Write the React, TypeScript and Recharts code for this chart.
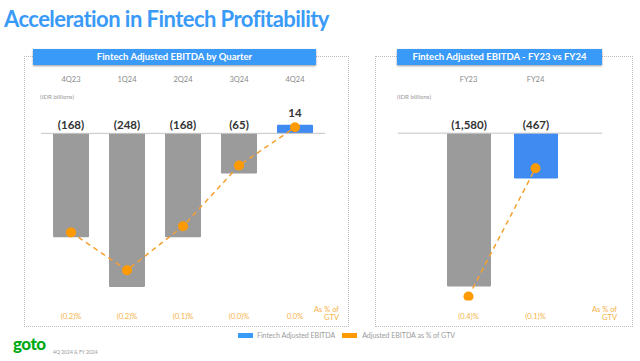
import React from 'react';
import { ComposedChart, Bar, Line, XAxis, YAxis, ReferenceLine, LabelList, Cell } from 'recharts';

// quarterly view (IDR billions)
const quarters = ['4Q23', '1Q24', '2Q24', '3Q24', '4Q24'];
const quarterEbitda = [-168, -248, -168, -65, 14];
const quarterPct = [-0.16, -0.221, -0.15, -0.052, 0.0097];
const quarterPctLabels = ['(0.2)%', '(0.2)%', '(0.1)%', '(0.0)%', '0.0%'];

// full year view
const years = ['FY23', 'FY24'];
const yearEbitda = [-1580, -467];
const yearPct = [-0.4075, -0.0875];
const yearPctLabels = ['(0.4)%', '(0.1)%'];

const GRAY = '#9b9b9b';
const BLUE = '#3f8bf2';
const HEADER = '#3a9af8';
const ORANGE = '#ff9a00';
const ORANGE_TXT = '#f5b245';
const FONT = 'Lato, "Open Sans", sans-serif';

const quarterData = quarters.map((q, i) => ({ q, v: quarterEbitda[i], p: quarterPct[i] }));
const yearData = years.map((q, i) => ({ q, v: yearEbitda[i], p: yearPct[i] }));

const fmt = (v: number) => (v < 0 ? `(${Math.abs(v).toLocaleString('en-US')})` : String(v));

const BarValueLabel = (props: any) => {
  const { x, y, width, height, value } = props;
  const top = Math.min(y, y + height);
  return (
    <text x={x + width / 2} y={value < 0 ? top - 4 : top - 8} textAnchor="middle" fontSize={11.5} fontWeight={700} fill="#333" fontFamily={FONT}>
      {fmt(value)}
    </text>
  );
};

function Panel({ data, labels, vDomain, pDomain, barSize, padding, width, left, margin }: any) {
  const last = data.length - 1;
  return (
    <div style={{ position: 'absolute', left, top: 0 }}>
      <ComposedChart width={width} height={361} data={data} margin={margin}>
        <XAxis dataKey="q" orientation="top" height={30} axisLine={false} tickLine={false} tickSize={0} tickMargin={8}
          padding={padding} tick={{ fill: '#8a8a8a', fontSize: 7.5, fontFamily: FONT }} />
        <XAxis xAxisId="pct" dataKey="q" orientation="bottom" height={30} axisLine={false} tickLine={false} tickSize={0} tickMargin={13}
          padding={padding} tickFormatter={(_: any, i: number) => labels[i]} tick={{ fill: ORANGE_TXT, fontSize: 7.5, fontFamily: FONT }} />
        <YAxis yAxisId="v" domain={vDomain} hide allowDataOverflow />
        <YAxis yAxisId="p" domain={pDomain} hide allowDataOverflow />
        <ReferenceLine yAxisId="v" y={0} stroke="#c4c4c4" strokeWidth={1} />
        <Bar yAxisId="v" dataKey="v" barSize={barSize} isAnimationActive={false} radius={1}>
          {data.map((d: any, i: number) => <Cell key={d.q} fill={i === last ? BLUE : GRAY} />)}
          <LabelList dataKey="v" content={BarValueLabel} />
        </Bar>
        <Line xAxisId="pct" yAxisId="p" type="linear" dataKey="p" stroke="#f5a030" strokeWidth={1.5} strokeDasharray="5 4"
          dot={{ r: 5, fill: ORANGE, stroke: 'none' }} isAnimationActive={false} />
      </ComposedChart>
    </div>
  );
}

const small = { position: 'absolute' as const, fontFamily: FONT, color: '#999', fontSize: 6.2 };

export default function App() {
  return (
    <div style={{ position: 'absolute', left: 0, top: 0, width: 640, height: 361, background: '#fff', overflow: 'hidden', fontFamily: FONT }}>
      <div style={{ position: 'absolute', left: 4, top: 5, fontSize: 22, fontWeight: 700, color: HEADER, whiteSpace: 'nowrap', letterSpacing: -0.55 }}>
        Acceleration in Fintech Profitability
      </div>

      {/* panel frames */}
      <div style={{ position: 'absolute', left: 24, top: 56, width: 323, height: 269, border: '1px dotted #bdbdbd' }} />
      <div style={{ position: 'absolute', left: 375, top: 56, width: 256, height: 269, border: '1px dotted #bdbdbd' }} />

      <Panel data={quarterData} labels={quarterPctLabels} vDomain={[-270, 70]} pDomain={[-0.27, 0.07]} barSize={36}
        padding={{ left: 2, right: 2 }} width={360} left={0} margin={{ top: 60, right: 35, bottom: 30.5, left: 41 }} />
      <Panel data={yearData} labels={yearPctLabels} vDomain={[-1725, 445]} pDomain={[-0.4175, 0.1075]} barSize={44}
        padding={{ left: 37, right: 33 }} width={280} left={360} margin={{ top: 60, right: 38, bottom: 30.5, left: 38 }} />

      {/* panel headers */}
      <div style={{ position: 'absolute', left: 33, top: 49, width: 283, height: 16, background: HEADER, color: '#fff', fontSize: 9.5, fontWeight: 700,
        textAlign: 'center', lineHeight: '16px', boxShadow: '0 1px 2px rgba(0,0,0,0.4)' }}>Fintech Adjusted EBITDA by Quarter</div>
      <div style={{ position: 'absolute', left: 397, top: 49, width: 205, height: 16, background: HEADER, color: '#fff', fontSize: 9.5, fontWeight: 700,
        textAlign: 'center', lineHeight: '16px', boxShadow: '0 1px 2px rgba(0,0,0,0.4)' }}>Fintech Adjusted EBITDA - FY23 vs FY24</div>

      <div style={{ ...small, left: 40, top: 93 }}>(IDR billions)</div>
      <div style={{ ...small, left: 397, top: 93 }}>(IDR billions)</div>

      <div style={{ ...small, color: ORANGE_TXT, fontSize: 7.5, lineHeight: '8px', textAlign: 'right', right: 640 - 339, top: 306 }}>As % of<br />GTV</div>
      <div style={{ ...small, color: ORANGE_TXT, fontSize: 7.5, lineHeight: '8px', textAlign: 'right', right: 640 - 617, top: 306 }}>As % of<br />GTV</div>

      {/* legend */}
      <div style={{ position: 'absolute', left: 238, top: 331, display: 'flex', alignItems: 'center', fontSize: 7, color: '#9a9a9a', whiteSpace: 'nowrap' }}>
        <span style={{ width: 15, height: 5, background: HEADER, display: 'inline-block', marginRight: 4 }} />
        <span style={{ marginRight: 7 }}>Fintech Adjusted EBITDA</span>
        <span style={{ width: 15, height: 5, background: ORANGE, display: 'inline-block', marginRight: 5 }} />
        <span>Adjusted EBITDA as % of GTV</span>
      </div>

      {/* footer */}
      <div style={{ position: 'absolute', left: 13, top: 333, fontSize: 17, fontWeight: 900, color: '#00aa13', letterSpacing: -0.5 }}>goto</div>
      <div style={{ ...small, left: 53, top: 349, fontSize: 5 }}>4Q 2024 &amp; FY 2024</div>
    </div>
  );
}
